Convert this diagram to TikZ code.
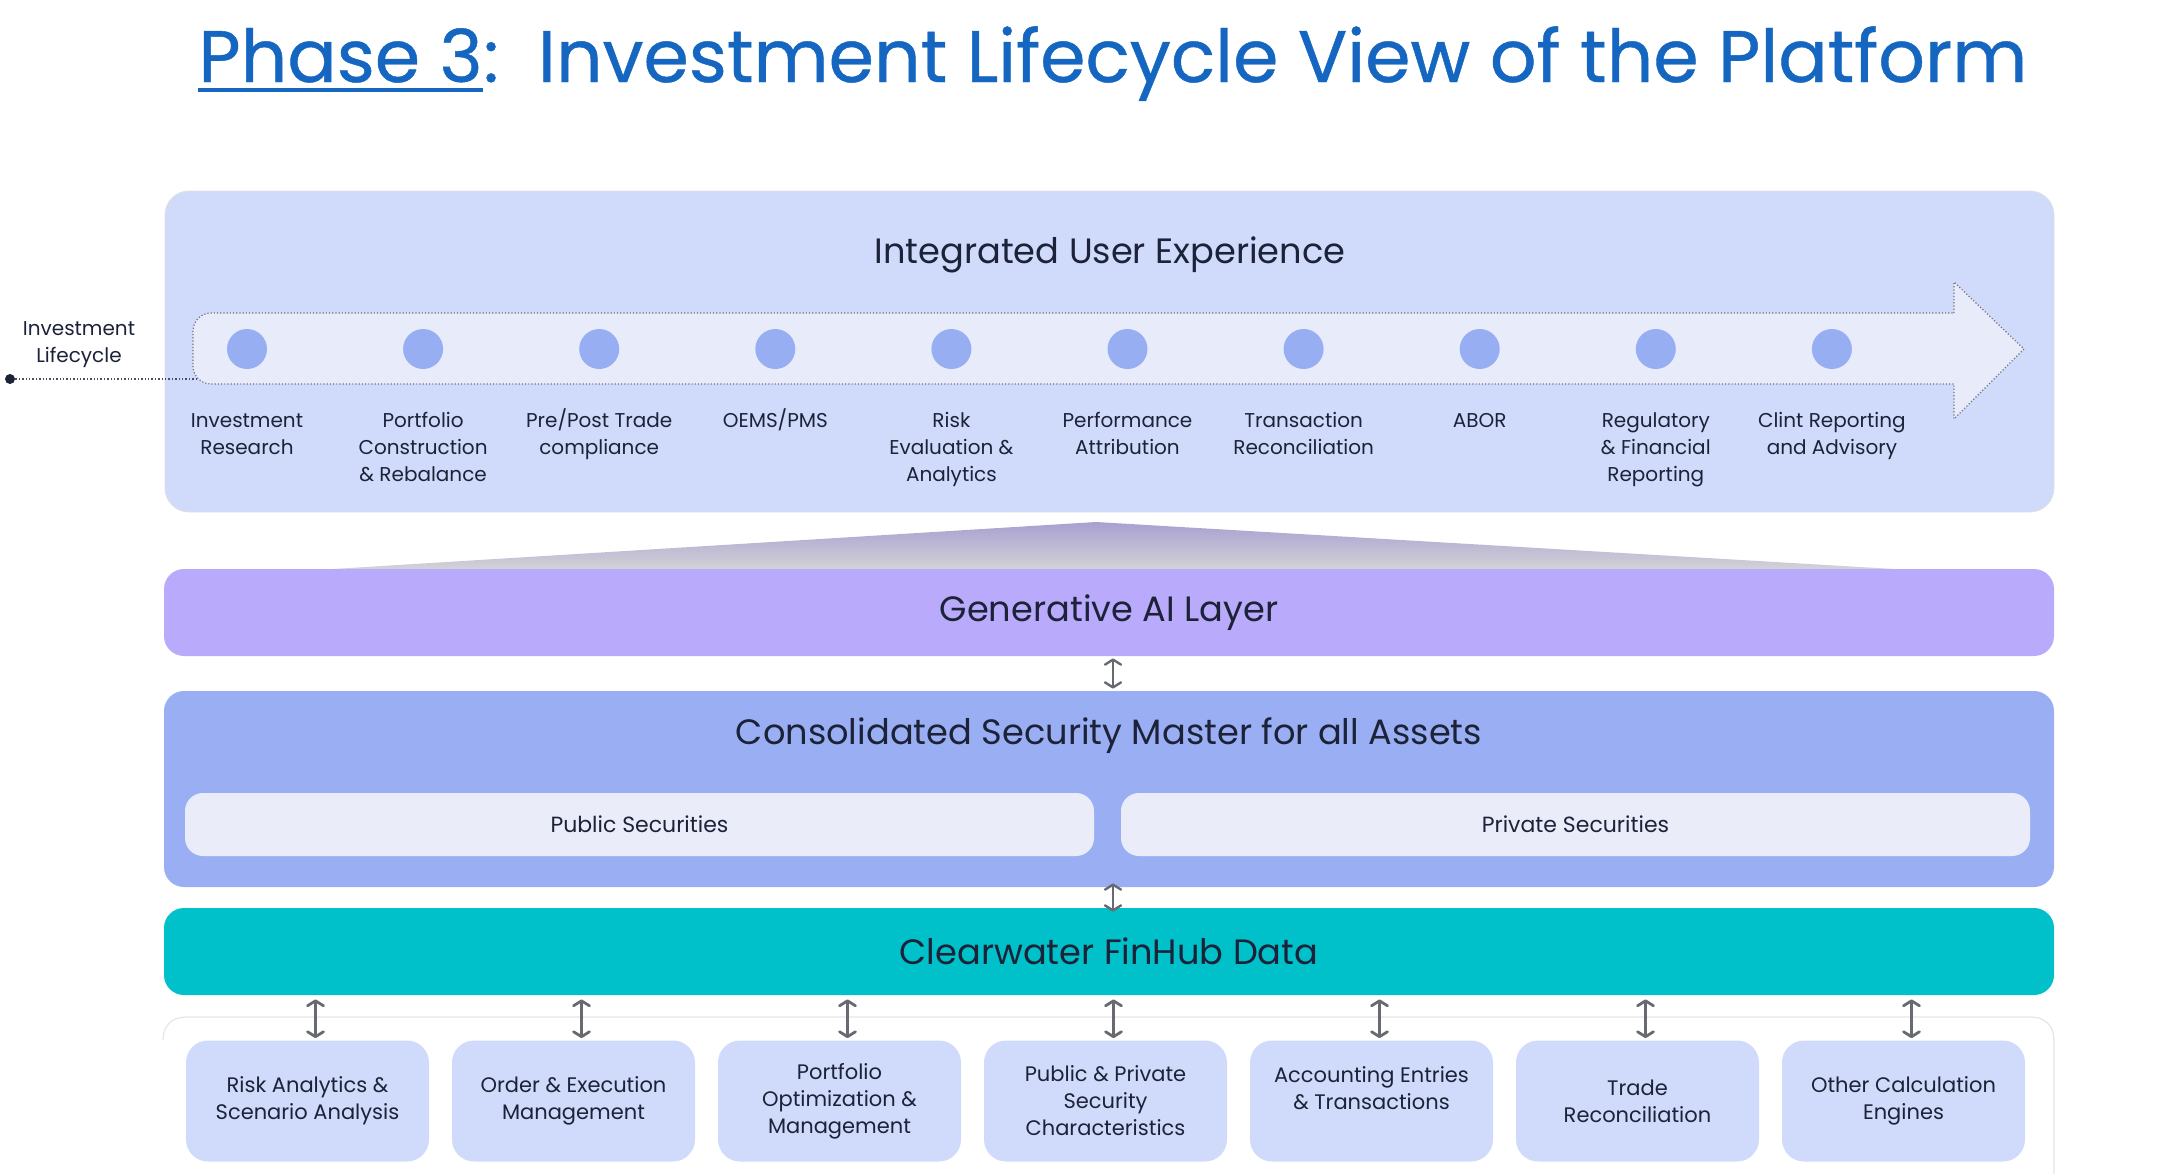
\documentclass[tikz,border=0pt]{standalone}
\usepackage{fontspec}
\setmainfont{Poppins}
\newfontfamily\titlefont[FakeBold=0.6]{Poppins}
\usetikzlibrary{positioning,calc,arrows.meta,backgrounds}
\definecolor{titleblue}{HTML}{1466C0}
\definecolor{inktext}{HTML}{1C2238}
\definecolor{uxfill}{HTML}{D0DBFC}
\definecolor{bandfill}{HTML}{E8ECFA}
\definecolor{dotblue}{HTML}{98AEF2}
\definecolor{genaifill}{HTML}{B9AAFB}
\definecolor{csmfill}{HTML}{9AAFF3}
\definecolor{subfill}{HTML}{EAEDF9}
\definecolor{cwfill}{HTML}{00C0C9}
\definecolor{modfill}{HTML}{D0DBFC}
\definecolor{arrowgray}{HTML}{676A70}
\tikzset{
    every node/.style={font=\fontsize{10}{13.5}\selectfont, text=inktext},
    titletext/.style={font=\titlefont\fontsize{36.5}{42}\selectfont, text=titleblue, inner sep=0pt, anchor=base west},
    headtext/.style={font=\fontsize{17.6}{20}\selectfont},
    uxbox/.style={fill=uxfill, draw=black!12, rounded corners=12pt, minimum width=944.5pt, minimum height=160.5pt},
    layerbox/.style={rounded corners=10pt, minimum width=945pt, minimum height=43.5pt, font=\fontsize{17.6}{20}\selectfont},
    subbox/.style={fill=subfill, rounded corners=9pt, minimum width=454.5pt, minimum height=31.5pt, font=\fontsize{11}{13}\selectfont},
    modbox/.style={fill=modfill, rounded corners=11pt, minimum width=121.5pt, minimum height=60.5pt, align=center,
                   font=\fontsize{10.5}{13.5}\selectfont},
    bluedot/.style={circle, fill=dotblue, minimum size=20pt, inner sep=0pt},
    steplabel/.style={align=center, inner sep=1pt},
    band/.style={fill=bandfill, draw=black!55, densely dotted, line width=0.6pt},
    arrow/.style={{Straight Barb[length=2.5pt,width=8pt,line cap=round,line join=round]}-{Straight Barb[length=2.5pt,width=8pt,line cap=round,line join=round]},
                  line width=1.4pt, draw=arrowgray},
}

\begin{document}
\begin{tikzpicture}[x=0.5pt, y=-0.5pt, node distance=18.5pt and 0pt]
\useasboundingbox (0,0) rectangle (2176,1174);
% Define the dot spacing along the lifecycle band
\def\dotsep{176.1}
\def\modsep{266}

% title
\node[titletext] (phase) at (198,82) {Phase 3};
\node[titletext] (titlerest) at (phase.base east) {:\ \ Investment Lifecycle View of the Platform};
\draw[titleblue, line width=2pt] ([yshift=-4pt]phase.base west) -- ([yshift=-4pt]phase.base east);

% integrated user experience
\node[uxbox] (ux) at (1109.5,351.5) {};
\node[headtext] (uxtitle) at (1110,255) {Integrated User Experience};

\draw[band] (1954,313) -- (1954,282) -- (2024,349) -- (1954,419) -- (1954,384) -- (211,384)
  .. controls (201,384) and (193,376) .. (193,366) -- (193,331)
  .. controls (193,321) and (201,313) .. (211,313) -- cycle;
\coordinate (bandleft) at (196,379);

\foreach \i/\text in {0/{Investment\\Research}, 1/{Portfolio\\Construction\\\& Rebalance},
                      2/{Pre/Post Trade\\compliance}, 3/{OEMS/PMS},
                      4/{Risk\\Evaluation \&\\Analytics}, 5/{Performance\\Attribution},
                      6/{Transaction\\Reconciliation}, 7/{ABOR},
                      8/{Regulatory\\\& Financial\\Reporting}, 9/{Clint Reporting\\and Advisory}}{
  \node[bluedot] (dot-\i) at ({247+\dotsep*\i},349) {};
  \node[steplabel, below=of dot-\i] (step-\i) {\strut\text};
}

\node[align=center] (lclabel) at (79,345) {Investment\\Lifecycle};
\node[circle, fill=inktext, minimum size=5pt, inner sep=0pt] (lcdot) at (10,379) {};
\draw[inktext!80, densely dotted, line width=0.7pt] (lcdot) -- (bandleft);

% funnel into the AI layer
\shade[top color={rgb,255:red,168;green,160;blue,208}, bottom color={rgb,255:red,210;green,210;blue,215}]
  (333,569) -- (1096,522) -- (1894,569) -- cycle;

% layers
\node[layerbox, fill=genaifill] (genai) at (1109,612.5) {Generative AI Layer};
\node[layerbox, fill=csmfill, minimum height=98pt] (csm) at (1109,789) {};
\node[headtext] (csmtitle) at (1109,736) {Consolidated Security Master for all Assets};
\node[subbox] (pub) at (639.5,824.5) {Public Securities};
\node[subbox] (priv) at (1575.5,824.5) {Private Securities};
\node[layerbox, fill=cwfill] (cw) at (1109,951.5) {Clearwater FinHub Data};

\draw[arrow, line width=1.2pt] ([xshift=2pt,yshift=-1pt]genai.south) -- ([xshift=2pt,yshift=1pt]csm.north);
\draw[arrow, line width=1.2pt] ([xshift=2pt,yshift=2pt]csm.south) -- ([xshift=2pt,yshift=-2pt]cw.north);

% calculation modules
\draw[black!10, line width=0.6pt] (163,1040) .. controls (163,1026) and (172,1017) .. (186,1017)
  -- (2031,1017) .. controls (2045,1017) and (2054,1026) .. (2054,1040) -- (2054,1174);

\foreach \col/\text in {1/{Risk Analytics \&\\Scenario Analysis}, 2/{Order \& Execution\\Management},
                        3/{Portfolio\\Optimization \&\\Management}, 4/{Public \& Private\\Security\\Characteristics},
                        5/{Accounting Entries\\\& Transactions\\~}, 6/{Trade\\Reconciliation},
                        7/{Other Calculation\\Engines}}{
  \node[modbox] (mod-\col) at ({307.5+\modsep*(\col-1)},1101) {\text};
  \draw[arrow, shorten >=2pt, shorten <=1pt] ([xshift=4pt]mod-\col.north) -- ([xshift=4pt]mod-\col.north |- cw.south);
}

\end{tikzpicture}
\end{document}
